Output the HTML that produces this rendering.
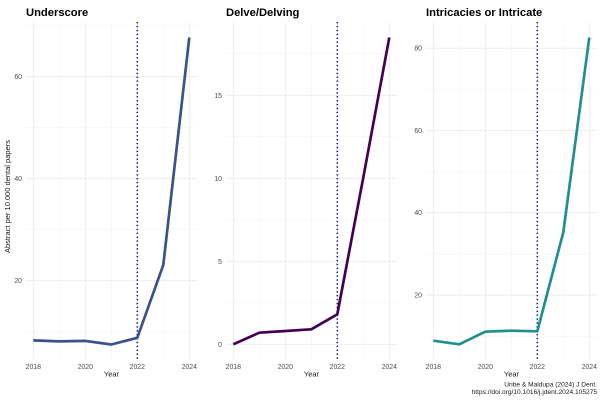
<!DOCTYPE html>
<html><head><meta charset="utf-8"><style>
html,body{margin:0;padding:0;background:#fff;}
svg{display:block;font-family:"Liberation Sans",Arial,sans-serif;}
.maj{stroke:#ebebeb;stroke-width:0.9;}
.min{stroke:#f3f3f3;stroke-width:0.6;}
.tk{fill:#4d4d4d;font-size:6.9px;}
.ttl{font-weight:bold;font-size:11.2px;fill:#000;}
.ax{font-size:7.5px;fill:#1a1a1a;}
.dot{stroke:#1c1c8f;stroke-width:1.6;stroke-dasharray:1.4 2.5;fill:none;}
</style></head><body>
<svg width="602" height="401" viewBox="0 0 602 401" xmlns="http://www.w3.org/2000/svg">
<rect width="602" height="401" fill="#fff"/>

<!-- Panel 1 -->
<g>
<g class="min">
<line x1="26" x2="197" y1="331.7" y2="331.7"/><line x1="26" x2="197" y1="229.7" y2="229.7"/><line x1="26" x2="197" y1="127.7" y2="127.7"/><line x1="26" x2="197" y1="25.7" y2="25.7"/>
<line x1="59.3" x2="59.3" y1="22" y2="359"/><line x1="111.3" x2="111.3" y1="22" y2="359"/><line x1="163.3" x2="163.3" y1="22" y2="359"/>
</g>
<g class="maj">
<line x1="26" x2="197" y1="280.7" y2="280.7"/><line x1="26" x2="197" y1="178.7" y2="178.7"/><line x1="26" x2="197" y1="76.7" y2="76.7"/>
<line x1="33.3" x2="33.3" y1="22" y2="359"/><line x1="85.3" x2="85.3" y1="22" y2="359"/><line x1="137.3" x2="137.3" y1="22" y2="359"/><line x1="189.3" x2="189.3" y1="22" y2="359"/>
</g>
<line class="dot" x1="137.3" x2="137.3" y1="22" y2="359"/>
<polyline fill="none" stroke="#3b528b" stroke-width="2.7" stroke-linejoin="round" points="33.3,340.4 59.3,341.4 85.3,340.9 111.3,344.5 137.3,337.8 163.3,264.9 189.3,37.5"/>
<text class="ttl" x="26" y="16">Underscore</text>
<g class="tk" text-anchor="end">
<text x="22" y="283.2">20</text><text x="22" y="181.2">40</text><text x="22" y="79.2">60</text>
</g>
<g class="tk" text-anchor="middle">
<text x="33.3" y="369.2">2018</text><text x="85.3" y="369.2">2020</text><text x="137.3" y="369.2">2022</text><text x="189.3" y="369.2">2024</text>
</g>
<text class="ax" x="111.5" y="376.5" text-anchor="middle">Year</text>
<text class="ax" font-size="7.9" x="0" y="0" text-anchor="middle" transform="translate(10.2,196.5) rotate(-90)">Abstract per 10 000 dental papers</text>
</g>

<!-- Panel 2 -->
<g>
<g class="min">
<line x1="226" x2="397" y1="302.8" y2="302.8"/><line x1="226" x2="397" y1="219.8" y2="219.8"/><line x1="226" x2="397" y1="136.8" y2="136.8"/><line x1="226" x2="397" y1="53.8" y2="53.8"/>
<line x1="259.3" x2="259.3" y1="22" y2="359"/><line x1="311.3" x2="311.3" y1="22" y2="359"/><line x1="363.3" x2="363.3" y1="22" y2="359"/>
</g>
<g class="maj">
<line x1="226" x2="397" y1="344.3" y2="344.3"/><line x1="226" x2="397" y1="261.3" y2="261.3"/><line x1="226" x2="397" y1="178.3" y2="178.3"/><line x1="226" x2="397" y1="95.3" y2="95.3"/>
<line x1="233.3" x2="233.3" y1="22" y2="359"/><line x1="285.3" x2="285.3" y1="22" y2="359"/><line x1="337.3" x2="337.3" y1="22" y2="359"/><line x1="389.3" x2="389.3" y1="22" y2="359"/>
</g>
<line class="dot" x1="337.3" x2="337.3" y1="22" y2="359"/>
<polyline fill="none" stroke="#440154" stroke-width="2.7" stroke-linejoin="round" points="233.3,344.3 259.3,332.7 285.3,331.0 311.3,329.3 337.3,314.3 363.3,177.5 389.3,37.5"/>
<text class="ttl" x="226" y="16">Delve/Delving</text>
<g class="tk" text-anchor="end">
<text x="222" y="346.8">0</text><text x="222" y="263.8">5</text><text x="222" y="180.8">10</text><text x="222" y="97.8">15</text>
</g>
<g class="tk" text-anchor="middle">
<text x="233.3" y="369.2">2018</text><text x="285.3" y="369.2">2020</text><text x="337.3" y="369.2">2022</text><text x="389.3" y="369.2">2024</text>
</g>
<text class="ax" x="311.5" y="376.5" text-anchor="middle">Year</text>
</g>

<!-- Panel 3 -->
<g>
<g class="min">
<line x1="426" x2="597" y1="336.2" y2="336.2"/><line x1="426" x2="597" y1="253.9" y2="253.9"/><line x1="426" x2="597" y1="171.6" y2="171.6"/><line x1="426" x2="597" y1="89.3" y2="89.3"/>
<line x1="459.3" x2="459.3" y1="22" y2="359"/><line x1="511.3" x2="511.3" y1="22" y2="359"/><line x1="563.3" x2="563.3" y1="22" y2="359"/>
</g>
<g class="maj">
<line x1="426" x2="597" y1="295" y2="295"/><line x1="426" x2="597" y1="212.7" y2="212.7"/><line x1="426" x2="597" y1="130.4" y2="130.4"/><line x1="426" x2="597" y1="48.2" y2="48.2"/>
<line x1="433.3" x2="433.3" y1="22" y2="359"/><line x1="485.3" x2="485.3" y1="22" y2="359"/><line x1="537.3" x2="537.3" y1="22" y2="359"/><line x1="589.3" x2="589.3" y1="22" y2="359"/>
</g>
<line class="dot" x1="537.3" x2="537.3" y1="22" y2="359"/>
<polyline fill="none" stroke="#21908c" stroke-width="2.7" stroke-linejoin="round" points="433.3,340.7 459.3,344.3 485.3,331.7 511.3,330.7 537.3,331.3 563.3,232.3 589.3,37.5"/>
<text class="ttl" x="426" y="16">Intricacies or Intricate</text>
<g class="tk" text-anchor="end">
<text x="422" y="297.5">20</text><text x="422" y="215.2">40</text><text x="422" y="132.9">60</text><text x="422" y="50.7">80</text>
</g>
<g class="tk" text-anchor="middle">
<text x="433.3" y="369.2">2018</text><text x="485.3" y="369.2">2020</text><text x="537.3" y="369.2">2022</text><text x="589.3" y="369.2">2024</text>
</g>
<text class="ax" x="511.5" y="376.5" text-anchor="middle">Year</text>
</g>

<g font-size="6.6" fill="#1a1a1a" text-anchor="end">
<text x="597" y="386.6">Uribe &amp; Maldupa (2024) J Dent.</text>
<text x="597" y="394">https://doi.org/10.1016/j.jdent.2024.105275</text>
</g>
</svg>
</body></html>
